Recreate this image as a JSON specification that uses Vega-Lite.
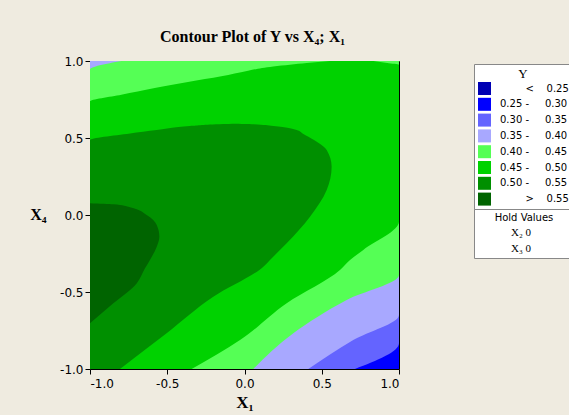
{
  "$schema": "https://vega.github.io/schema/vega-lite/v6.json",
  "width": 309,
  "height": 308,
  "autosize": {"type": "none"},
  "padding": {"left": 90, "top": 61, "right": 170, "bottom": 46},
  "background": "#EFEBE0",
  "title": {
    "text": "Contour Plot of Y vs X\u2084; X\u2081",
    "font": "Liberation Serif",
    "fontSize": 16,
    "fontWeight": "bold",
    "color": "black",
    "anchor": "middle",
    "frame": "group",
    "offset": 10,
    "dx": 8
  },
  "datasets": {
    "regions": [
      {"level": "0.25 - 0.30", "X4": -1, "lo": -1, "hi": 1},
      {"level": "0.25 - 0.30", "X4": 1, "lo": -1, "hi": 1},

      {"level": "0.30 - 0.35", "X4": -1, "lo": -1, "hi": 0.715},
      {"level": "0.30 - 0.35", "X4": -0.833, "lo": -1, "hi": 1},
      {"level": "0.30 - 0.35", "X4": 1, "lo": -1, "hi": 1},

      {"level": "0.35 - 0.40", "X4": -1, "lo": -1, "hi": 0.413},
      {"level": "0.35 - 0.40", "X4": -0.812, "lo": -1, "hi": 0.704},
      {"level": "0.35 - 0.40", "X4": -0.649, "lo": -1, "hi": 1},
      {"level": "0.35 - 0.40", "X4": 1, "lo": -1, "hi": 1},

      {"level": "0.40 - 0.45", "X4": -1, "lo": -1, "hi": 0.057},
      {"level": "0.40 - 0.45", "X4": -0.768, "lo": -1, "hi": 0.316},
      {"level": "0.40 - 0.45", "X4": -0.552, "lo": -1, "hi": 0.661},
      {"level": "0.40 - 0.45", "X4": -0.39, "lo": -1, "hi": 1},
      {"level": "0.40 - 0.45", "X4": 0.944, "lo": -1, "hi": 1},
      {"level": "0.40 - 0.45", "X4": 1, "lo": -0.797, "hi": 1},

      {"level": "0.45 - 0.50", "X4": -1, "lo": -1, "hi": -0.342},
      {"level": "0.45 - 0.50", "X4": -0.812, "lo": -1, "hi": -0.029},
      {"level": "0.45 - 0.50", "X4": -0.573, "lo": -1, "hi": 0.273},
      {"level": "0.45 - 0.50", "X4": -0.357, "lo": -1, "hi": 0.618},
      {"level": "0.45 - 0.50", "X4": -0.292, "lo": -1, "hi": 0.683},
      {"level": "0.45 - 0.50", "X4": -0.227, "lo": -1, "hi": 0.769},
      {"level": "0.45 - 0.50", "X4": -0.043, "lo": -1, "hi": 1},
      {"level": "0.45 - 0.50", "X4": 0.737, "lo": -1, "hi": 1},
      {"level": "0.45 - 0.50", "X4": 0.781, "lo": -0.797, "hi": 1},
      {"level": "0.45 - 0.50", "X4": 0.825, "lo": -0.581, "hi": 1},
      {"level": "0.45 - 0.50", "X4": 0.864, "lo": -0.366, "hi": 1},
      {"level": "0.45 - 0.50", "X4": 0.901, "lo": -0.15, "hi": 1},
      {"level": "0.45 - 0.50", "X4": 0.937, "lo": 0.023, "hi": 1},
      {"level": "0.45 - 0.50", "X4": 0.965, "lo": 0.186, "hi": 1},
      {"level": "0.45 - 0.50", "X4": 0.976, "lo": 0.294, "hi": 1},
      {"level": "0.45 - 0.50", "X4": 0.987, "lo": 0.403, "hi": 0.924},
      {"level": "0.45 - 0.50", "X4": 1, "lo": 0.553, "hi": 0.834},

      {"level": "0.50 - 0.55", "X4": -1, "lo": -1, "hi": -0.806},
      {"level": "0.50 - 0.55", "X4": -0.768, "lo": -1, "hi": -0.504},
      {"level": "0.50 - 0.55", "X4": -0.531, "lo": -1, "hi": -0.202},
      {"level": "0.50 - 0.55", "X4": -0.336, "lo": -1, "hi": 0.122},
      {"level": "0.50 - 0.55", "X4": -0.292, "lo": -1, "hi": 0.165},
      {"level": "0.50 - 0.55", "X4": -0.184, "lo": -1, "hi": 0.273},
      {"level": "0.50 - 0.55", "X4": -0.011, "lo": -1, "hi": 0.424},
      {"level": "0.50 - 0.55", "X4": 0.162, "lo": -1, "hi": 0.532},
      {"level": "0.50 - 0.55", "X4": 0.314, "lo": -1, "hi": 0.564},
      {"level": "0.50 - 0.55", "X4": 0.422, "lo": -1, "hi": 0.532},
      {"level": "0.50 - 0.55", "X4": 0.487, "lo": -1, "hi": 0.45},
      {"level": "0.50 - 0.55", "X4": 0.53, "lo": -0.741, "hi": 0.376},
      {"level": "0.50 - 0.55", "X4": 0.552, "lo": -0.568, "hi": 0.338},
      {"level": "0.50 - 0.55", "X4": 0.578, "lo": -0.353, "hi": 0.187},
      {"level": "0.50 - 0.55", "X4": 0.591, "lo": -0.137, "hi": 0.014},
      {"level": "0.50 - 0.55", "X4": 0.593, "lo": -0.06, "hi": -0.06},

      {"level": "> 0.55", "X4": -0.703, "lo": -1, "hi": -1},
      {"level": "> 0.55", "X4": -0.573, "lo": -1, "hi": -0.849},
      {"level": "> 0.55", "X4": -0.444, "lo": -1, "hi": -0.698},
      {"level": "> 0.55", "X4": -0.346, "lo": -1, "hi": -0.644},
      {"level": "> 0.55", "X4": -0.292, "lo": -1, "hi": -0.612},
      {"level": "> 0.55", "X4": -0.206, "lo": -1, "hi": -0.568},
      {"level": "> 0.55", "X4": -0.141, "lo": -1, "hi": -0.551},
      {"level": "> 0.55", "X4": -0.065, "lo": -1, "hi": -0.568},
      {"level": "> 0.55", "X4": 0, "lo": -1, "hi": -0.633},
      {"level": "> 0.55", "X4": 0.05, "lo": -1, "hi": -0.741},
      {"level": "> 0.55", "X4": 0.069, "lo": -1, "hi": -0.849},
      {"level": "> 0.55", "X4": 0.076, "lo": -1, "hi": -1}
    ],
    "hold": [
      {"hold": "X\u2082 0"},
      {"hold": "X\u2083 0"}
    ]
  },
  "layer": [
    {
      "data": {"name": "regions"},
      "encoding": {
        "y": {
          "field": "X4",
          "type": "quantitative",
          "scale": {"domain": [-1, 1], "nice": false, "zero": false},
          "axis": {
            "values": [-1, -0.5, 0, 0.5, 1],
            "format": ".1f",
            "labelExpr": "replace(datum.label, '\u2212', '-')",
            "labelFont": "DejaVu Sans",
            "labelFontSize": 12,
            "labelColor": "black",
            "labelPadding": 2,
            "tickColor": "black",
            "tickSize": 5,
            "domain": false,
            "grid": false,
            "title": "X\u2084",
            "titleFont": "Liberation Serif",
            "titleFontSize": 16,
            "titleFontWeight": "bold",
            "titleColor": "black",
            "titleAngle": 0,
            "titleAlign": "right",
            "titleBaseline": "middle",
            "titleX": -44,
            "titleY": 153
          }
        },
        "x": {
          "field": "lo",
          "type": "quantitative",
          "scale": {"domain": [-1, 1], "nice": false, "zero": false},
          "stack": null,
          "axis": {
            "values": [-1, -0.5, 0, 0.5, 1],
            "format": ".1f",
            "labelExpr": "replace(datum.label, '\u2212', '-')",
            "labelFont": "DejaVu Sans",
            "labelFontSize": 12,
            "labelColor": "black",
            "labelPadding": 4,
            "tickColor": "black",
            "tickSize": 5,
            "domain": false,
            "grid": false,
            "title": "X\u2081",
            "titleFont": "Liberation Serif",
            "titleFontSize": 17,
            "titleFontWeight": "bold",
            "titleColor": "black",
            "titlePadding": 5
          }
        },
        "x2": {"field": "hi"},
        "color": {
          "field": "level",
          "type": "nominal",
          "scale": {
            "domain": ["< 0.25", "0.25 - 0.30", "0.30 - 0.35", "0.35 - 0.40", "0.40 - 0.45", "0.45 - 0.50", "0.50 - 0.55", "> 0.55"],
            "range": ["#0000B4", "#0000FF", "#6464FF", "#A8A8FF", "#55FF55", "#00D200", "#008F00", "#006400"]
          },
          "legend": {
            "title": "Y",
            "orient": "none",
            "legendX": 384,
            "legendY": 3,
            "titleFont": "Liberation Serif",
            "titleFontSize": 13,
            "titleFontWeight": "normal",
            "titleColor": "black",
            "titleAnchor": "middle",
            "titlePadding": 1,
            "symbolType": "square",
            "symbolSize": 169,
            "symbolStrokeWidth": 0,
            "labelFont": "DejaVu Sans",
            "labelFontSize": 10,
            "labelColor": "black",
            "labelOffset": 9,
            "rowPadding": 2.8,
            "padding": 4,
            "strokeColor": "#888888",
            "fillColor": "white",
            "labelExpr": "datum.label === '< 0.25' ? '\u200b\u00a0\u00a0\u00a0\u00a0\u00a0\u00a0\u00a0\u00a0<\u00a0\u00a0\u00a0\u00a00.25' : datum.label === '> 0.55' ? '\u200b\u00a0\u00a0\u00a0\u00a0\u00a0\u00a0\u00a0\u00a0>\u00a0\u00a0\u00a0\u00a00.55' : replace(datum.label, ' - ', '\u00a0-\u00a0\u00a0\u00a0\u00a0\u00a0')"
          }
        }
      },
      "layer": [
        {"transform": [{"filter": "datum.level === '0.25 - 0.30'"}], "mark": {"type": "area", "orient": "horizontal", "interpolate": "monotone"}},
        {"transform": [{"filter": "datum.level === '0.30 - 0.35'"}], "mark": {"type": "area", "orient": "horizontal", "interpolate": "monotone"}},
        {"transform": [{"filter": "datum.level === '0.35 - 0.40'"}], "mark": {"type": "area", "orient": "horizontal", "interpolate": "monotone"}},
        {"transform": [{"filter": "datum.level === '0.40 - 0.45'"}], "mark": {"type": "area", "orient": "horizontal", "interpolate": "monotone"}},
        {"transform": [{"filter": "datum.level === '0.45 - 0.50'"}], "mark": {"type": "area", "orient": "horizontal", "interpolate": "monotone"}},
        {"transform": [{"filter": "datum.level === '0.50 - 0.55'"}], "mark": {"type": "area", "orient": "horizontal", "interpolate": "monotone"}},
        {"transform": [{"filter": "datum.level === '> 0.55'"}], "mark": {"type": "area", "orient": "horizontal", "interpolate": "monotone"}}
      ]
    },
    {
      "data": {"name": "hold"},
      "mark": {"type": "point", "opacity": 0},
      "encoding": {
        "shape": {
          "field": "hold",
          "type": "nominal",
          "scale": {"domain": ["X\u2082 0", "X\u2083 0"]},
          "legend": {
            "title": "Hold Values",
            "orient": "none",
            "legendX": 384,
            "legendY": 148,
            "titleFont": "DejaVu Sans",
            "titleFontSize": 10,
            "titleFontWeight": "normal",
            "titleColor": "black",
            "titleAnchor": "middle",
            "titlePadding": 4,
            "symbolOpacity": 0,
            "symbolSize": 1,
            "labelAlign": "left",
            "labelFont": "Liberation Serif",
            "labelFontSize": 11,
            "labelColor": "black",
            "labelOffset": 22,
            "rowPadding": 4,
            "padding": 4,
            "strokeColor": "#888888",
            "fillColor": "white",
            "labelExpr": "datum.label + '\u00a0\u00a0\u00a0\u00a0\u00a0\u00a0\u00a0\u00a0\u00a0\u00a0\u00a0\u00a0\u00a0\u00a0\u200b'"
          }
        }
      }
    }
  ],
  "config": {
    "view": {"stroke": "black", "strokeWidth": 1},
    "legend": {"labelLimit": 300, "titleLimit": 300}
  }
}
